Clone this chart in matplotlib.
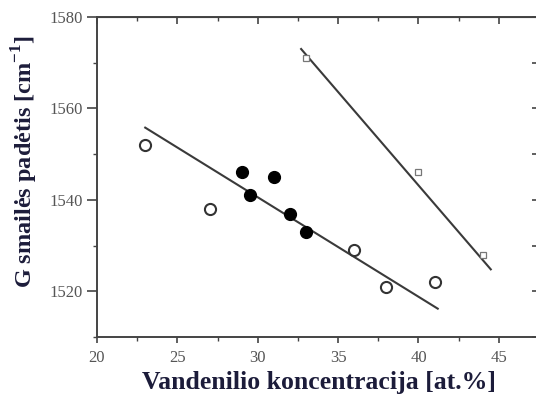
import numpy as np
import matplotlib
matplotlib.use("Agg")
import matplotlib.pyplot as plt

plt.rcParams["font.family"] = ["Liberation Serif", "DejaVu Serif"]
plt.rcParams["mathtext.fontset"] = "custom"
plt.rcParams["mathtext.rm"] = "Liberation Serif"
plt.rcParams["mathtext.bf"] = "Liberation Serif:bold"

# ---- data ----
open_x = [23, 27, 36, 38, 41]
open_y = [1552, 1538, 1529, 1521, 1522]

full_x = [29, 29.5, 31, 32, 33]
full_y = [1546, 1541, 1545, 1537, 1533]

sq_x = [33, 40, 44]
sq_y = [1571, 1546, 1528]

fit1_x = [23.0, 41.2]
fit1_y = [1555.8, 1516.2]
fit2_x = [32.7, 44.5]
fit2_y = [1573.0, 1524.8]

xticks = [20, 25, 30, 35, 40, 45]
yticks = [1520, 1540, 1560, 1580]

# ---- figure ----
fig = plt.figure(figsize=(5.36, 4.04), dpi=100)
ax = fig.add_axes([97 / 536, 67 / 404, (539 - 97) / 536, 320 / 404])

line_col = "#3a3a3a"
ax.plot(fit1_x, fit1_y, color=line_col, lw=1.5)
ax.plot(fit2_x, fit2_y, color=line_col, lw=1.5)

ax.plot(open_x, open_y, "o", ms=8, mfc="white", mec="#333333", mew=1.5)
ax.plot(full_x, full_y, "o", ms=8.5, mfc="black", mec="black")
ax.plot(sq_x, sq_y, "s", ms=4.5, mfc="white", mec="#777777", mew=0.9)

ax.set_xlim(20, 47.45)
ax.set_ylim(1510, 1580)
ax.set_xticks(xticks)
ax.set_yticks(yticks)
ax.set_xticks(np.arange(22.5, 47.6, 5), minor=True)
ax.set_yticks(np.arange(1510, 1580, 20), minor=True)

for s in ax.spines.values():
    s.set_linewidth(1.4)
    s.set_color("#444444")

ax.tick_params(which="major", direction="out", length=7, width=1.2,
               colors="#444444", labelsize=12, labelcolor="#555555")
ax.tick_params(which="minor", direction="out", length=3, width=1.0,
               colors="#444444")
ax.tick_params(axis="x", which="major", length=4, pad=5)

top = ax.secondary_xaxis("top")
top.set_xticks(xticks)
top.set_xticks(np.arange(22.5, 47.6, 5), minor=True)
top.tick_params(which="major", direction="in", length=5, width=1.2,
                colors="#444444", labeltop=False)
top.tick_params(which="minor", direction="in", length=3, width=1.0,
                colors="#444444")

right = ax.secondary_yaxis("right")
right.set_yticks(yticks)
right.set_yticks(np.arange(1510, 1580, 10), minor=True)
right.tick_params(which="major", direction="in", length=5, width=1.2,
                  colors="#444444", labelright=False)
right.tick_params(which="minor", direction="in", length=5, width=1.2,
                  colors="#444444")

lab_col = "#1c1c3a"
fig.text(319 / 536, 1 - 383 / 404, "Vandenilio koncentracija [at.%]",
         ha="center", va="center", fontsize=18.5, fontweight="bold",
         color=lab_col)
fig.text(25 / 536, 1 - 162 / 404, "G smailės padėtis [cm$^{\\mathbf{-1}}$]",
         ha="center", va="center", rotation=90, fontsize=17.5,
         fontweight="bold", color=lab_col)

fig.savefig("out.png", dpi=100)
